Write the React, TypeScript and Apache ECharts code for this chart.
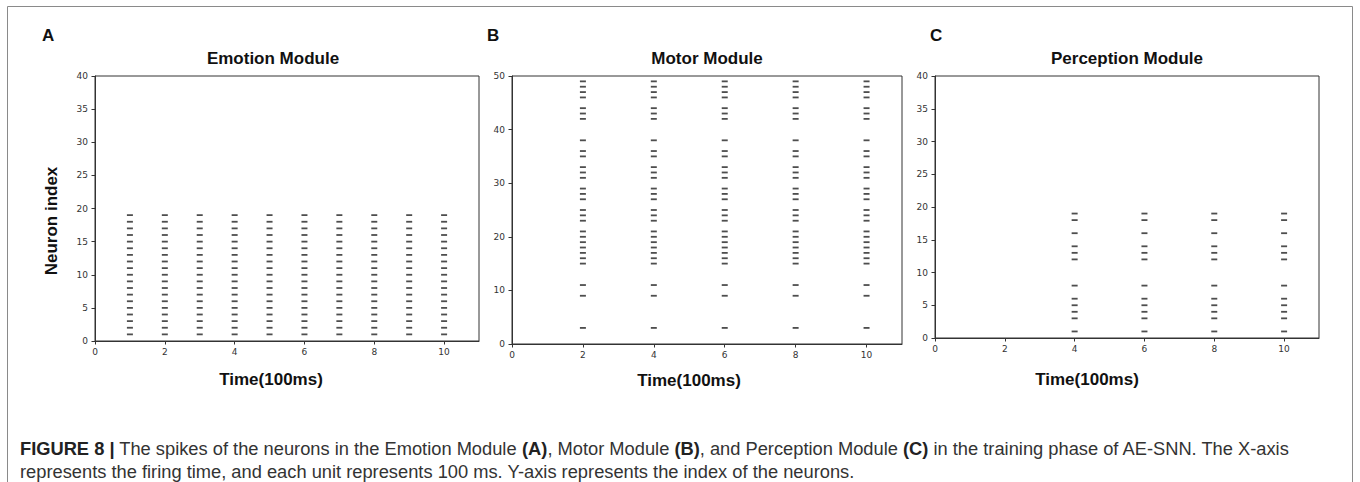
import React, { useEffect, useRef } from 'react';
import * as echarts from 'echarts';

// ---- data ----
const emotionTimes = [1, 2, 3, 4, 5, 6, 7, 8, 9, 10];
const emotionNeurons = [1, 2, 3, 4, 5, 6, 7, 8, 9, 10, 11, 12, 13, 14, 15, 16, 17, 18, 19];
const motorTimes = [2, 4, 6, 8, 10];
const motorNeurons = [3, 9, 11, 15, 16, 17, 18, 19, 20, 21, 23, 24, 25, 27, 28, 29, 31, 32, 33, 35, 36, 38, 42, 43, 44, 46, 47, 48, 49];
const perceptionTimes = [4, 6, 8, 10];
const perceptionNeurons = [1, 3, 4, 5, 6, 8, 12, 13, 14, 16, 18, 19];
const xTickValues = [0, 2, 4, 6, 8, 10];
const panelTitles = ['Emotion Module', 'Motor Module', 'Perception Module'];
const panelLetters = ['A', 'B', 'C'];
const xAxisName = 'Time(100ms)';
const yAxisName = 'Neuron index';
const captionLine1 = ' The spikes of the neurons in the Emotion Module ';
const captionLine2 = 'represents the firing time, and each unit represents 100 ms. Y-axis represents the index of the neurons.';

const spikes = (times: number[], neurons: number[]) =>
  times.flatMap((t) => neurons.map((n) => [t, n]));

export default function App() {
  const ref = useRef<HTMLDivElement>(null);
  useEffect(() => {
    document.body.style.margin = '0';
    const chart = echarts.init(ref.current!, null, { renderer: 'svg' });
    const grids = [
      { left: 95, top: 76, width: 384, height: 265 },
      { left: 512, top: 76, width: 390, height: 268 },
      { left: 935, top: 76, width: 384, height: 262 },
    ];
    const yMax = [40, 50, 40];
    const yInt = [5, 10, 5];
    const datasets = [
      spikes(emotionTimes, emotionNeurons),
      spikes(motorTimes, motorNeurons),
      spikes(perceptionTimes, perceptionNeurons),
    ];
    const tickFont = { fontFamily: 'DejaVu Sans', fontSize: 9, color: '#333' };
    const titleFont = { fontFamily: 'Liberation Sans, Arial, sans-serif', fontWeight: 'bold' as const, fill: '#111' };
    const titleX = [273, 707, 1127];
    const letterX = [42, 487, 930];
    const xlabelX = [271, 689, 1087];
    const xlabelY = [379, 380, 379];
    const capFont = 'Liberation Sans, Arial, sans-serif';
    const capSize = 18.3;

    const graphics: any[] = [
      { type: 'rect', shape: { x: 7.5, y: 6.5, width: 1345, height: 490 }, style: { fill: 'none', stroke: '#8a8a8a', lineWidth: 1 }, silent: true },
    ];
    for (let i = 0; i < 3; i++) {
      graphics.push({ type: 'text', x: letterX[i], y: 27, style: { text: panelLetters[i], ...titleFont, fontSize: 17, textVerticalAlign: 'top' } });
      graphics.push({ type: 'text', x: titleX[i], y: 58, style: { text: panelTitles[i], ...titleFont, fontSize: 17, textAlign: 'center', textVerticalAlign: 'middle' } });
      graphics.push({ type: 'text', x: xlabelX[i], y: xlabelY[i], style: { text: xAxisName, ...titleFont, fontSize: 17, textAlign: 'center', textVerticalAlign: 'middle' } });
    }
    graphics.push({ type: 'text', x: 51.5, y: 221, rotation: Math.PI / 2, style: { text: yAxisName, ...titleFont, fontSize: 17, textAlign: 'center', textVerticalAlign: 'middle' } });
    graphics.push({
      type: 'text', x: 20, y: 448,
      style: {
        text: '{b|FIGURE 8 |}' + captionLine1 + '{b|(A)}, Motor Module {b|(B)}, and Perception Module {b|(C)} in the training phase of AE-SNN. The X-axis',
        fontFamily: capFont, fontSize: capSize, fill: '#333', textVerticalAlign: 'middle',
        rich: { b: { fontWeight: 'bold', fill: '#222', fontSize: capSize, fontFamily: capFont } },
      },
    });
    graphics.push({
      type: 'text', x: 20, y: 471,
      style: { text: captionLine2, fontFamily: capFont, fontSize: capSize, fill: '#333', textVerticalAlign: 'middle' },
    });

    chart.setOption({
      animation: false,
      backgroundColor: '#fff',
      grid: grids.map((g) => ({ ...g, show: true, borderColor: '#333', borderWidth: 1, backgroundColor: 'transparent' })),
      xAxis: grids.map((_, i) => ({
        type: 'value', gridIndex: i, min: 0, max: 11,
        splitLine: { show: false },
        axisLine: { show: true, onZero: false, lineStyle: { color: '#333', width: 1 } },
        axisTick: { show: true, length: 3.5, lineStyle: { color: '#333' }, customValues: xTickValues },
        axisLabel: { ...tickFont, margin: 6, customValues: xTickValues },
      })),
      yAxis: grids.map((_, i) => ({
        type: 'value', gridIndex: i, min: 0, max: yMax[i], interval: yInt[i],
        splitLine: { show: false },
        axisLine: { show: true, onZero: false, lineStyle: { color: '#333', width: 1 } },
        axisTick: { show: true, length: 3.5, lineStyle: { color: '#333' } },
        axisLabel: { ...tickFont, margin: 7 },
      })),
      series: datasets.map((d, i) => ({
        type: 'scatter', xAxisIndex: i, yAxisIndex: i, data: d,
        symbol: 'rect', symbolSize: [6, 1.8],
        itemStyle: { color: '#222' }, silent: true,
      })),
      graphic: graphics,
    });
    return () => chart.dispose();
  }, []);
  return <div ref={ref} style={{ width: 1360, height: 482 }} />;
}
